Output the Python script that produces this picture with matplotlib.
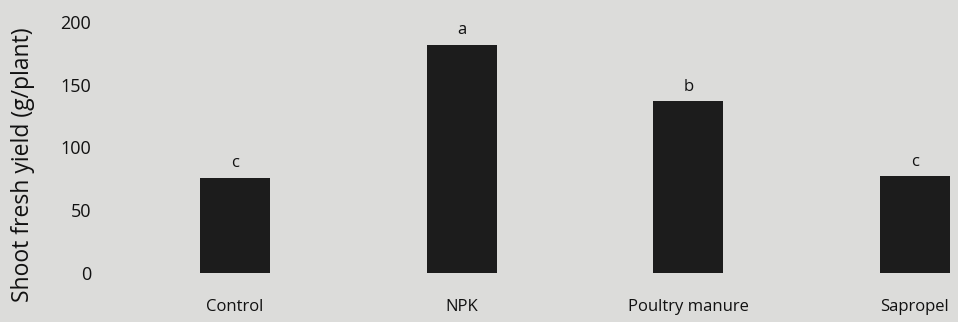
import matplotlib.pyplot as plt

treatments = ['Control', 'NPK', 'Poultry manure', 'Sapropel']
yield_vals = [76, 182, 137, 77]
letters = ['c', 'a', 'b', 'c']
y_ticks = [0, 50, 100, 150, 200]

plt.rcParams['font.family'] = ['Open Sans', 'DejaVu Sans']

bg = '#dcdcda'
fig = plt.figure(figsize=(9.58, 3.22), dpi=100, facecolor=bg)
ax = fig.add_axes([0.127, 0.152, 0.873, 0.78], facecolor=bg)

x = list(range(len(treatments)))
ax.bar(x, yield_vals, width=0.31, color='#1c1c1c')

# significance letters above bars
for xi, v, lab in zip(x, yield_vals, letters):
    ax.text(xi, v + 5, lab, ha='center', va='bottom', fontsize=12,
            color='#111111', clip_on=False)

ax.set_xlim(-0.5, 3.19)
ax.set_ylim(0, 200)
ax.set_yticks(y_ticks)
ax.set_xticks(x)
ax.set_xticklabels(treatments, fontsize=12, color='#111111')
ax.tick_params(axis='x', length=0, pad=19)
ax.tick_params(axis='y', length=0, pad=22, labelsize=13, labelcolor='#111111')
for s in ax.spines.values():
    s.set_visible(False)

fig.text(0.024, 0.49, 'Shoot fresh yield (g/plant)', rotation=90,
         ha='center', va='center', fontsize=16.5, color='#111111')

plt.savefig('out.png', dpi=100, facecolor=bg)
